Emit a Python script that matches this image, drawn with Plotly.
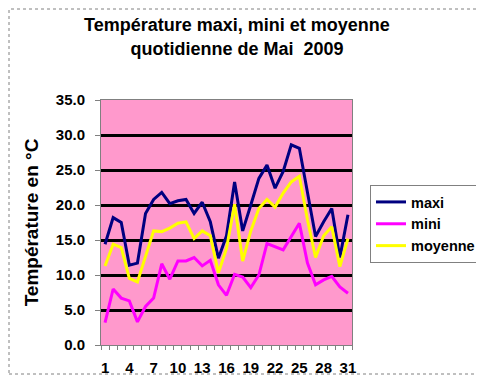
import plotly.graph_objects as go

days = list(range(1, 32))
maxi = [14.4, 18.2, 17.5, 11.4, 11.7, 18.8, 20.8, 21.8, 20.2, 20.6, 20.8, 18.8, 20.4, 17.6, 12.4, 15.6,
        23.3, 16.3, 20.0, 23.8, 25.7, 22.4, 24.8, 28.6, 28.1, 21.9, 15.5, 17.6, 19.5, 12.5, 18.6]
mini = [3.2, 8.0, 6.7, 6.3, 3.3, 5.5, 6.7, 11.6, 9.4, 12.0, 12.0, 12.5, 11.3, 12.1, 8.6, 7.1,
        10.1, 9.7, 8.2, 10.0, 14.5, 14.0, 13.6, 15.5, 17.4, 11.7, 8.6, 9.3, 9.8, 8.3, 7.4]
moyenne = [11.3, 14.4, 13.9, 9.5, 9.0, 12.6, 16.3, 16.2, 16.7, 17.4, 17.6, 15.2, 16.3, 15.6, 10.3, 13.8,
           20.1, 12.0, 16.3, 19.5, 20.8, 19.7, 21.7, 23.3, 24.1, 17.9, 12.5, 15.6, 16.9, 11.2, 15.2]
x_labels = [1, 4, 7, 10, 13, 16, 19, 22, 25, 28, 31]
y_ticks = [0, 5, 10, 15, 20, 25, 30, 35]

FONT = "Liberation Sans, Arial, sans-serif"

fig = go.Figure()
fig.add_trace(go.Scatter(x=days, y=maxi, name="maxi", mode="lines",
                         line=dict(color="#000080", width=3)))
fig.add_trace(go.Scatter(x=days, y=mini, name="mini", mode="lines",
                         line=dict(color="#FF00FF", width=3)))
fig.add_trace(go.Scatter(x=days, y=moyenne, name="moyenne", mode="lines",
                         line=dict(color="#FFFF00", width=3)))

# page body has an 8px margin, so the figure is drawn 8px smaller
W, H = 476, 367
L, R, T, B = 93, 132, 92, 30
pw, ph = W - L - R, H - T - B

fig.update_layout(
    width=W, height=H,
    margin=dict(l=L, r=R, t=T, b=B, autoexpand=False),
    paper_bgcolor="white",
    plot_bgcolor="#FF99CC",
    font=dict(family=FONT, size=15, color="black", weight="bold"),
    title=dict(text="Température maxi, mini et moyenne<br>quotidienne de Mai  2009",
               x=0.481, xanchor="center", y=0.936, yanchor="top",
               font=dict(family=FONT, size=18, color="black", weight="bold")),
    showlegend=True,
    legend=dict(x=(362 - L) / pw, xanchor="left", y=(H - B - 177) / ph, yanchor="top",
                bgcolor="white", bordercolor="#808080", borderwidth=1,
                font=dict(family=FONT, size=14.5, color="black", weight="bold")),
    xaxis=dict(range=[0.5, 31.5], tickvals=x_labels, ticktext=[str(v) for v in x_labels],
               ticks="", showgrid=False, zeroline=False, ticklabelstandoff=9,
               showline=True, linecolor="#808080", linewidth=1, mirror=True,
               tickfont=dict(family=FONT, size=15, color="black", weight="bold"),
               minor=dict(ticks="outside", tick0=0.5, dtick=1, ticklen=4,
                          tickcolor="#808080", showgrid=False)),
    yaxis=dict(range=[0, 35], tickvals=y_ticks, ticktext=[f"{v:.1f}" for v in y_ticks],
               ticks="outside", ticklen=5, tickcolor="#808080", ticklabelstandoff=7,
               showgrid=True, gridcolor="black", gridwidth=3, zeroline=False,
               showline=True, linecolor="#808080", linewidth=1, mirror=True,
               tickfont=dict(family=FONT, size=15, color="black", weight="bold"),
               title=dict(text="Température en °C", standoff=12,
                          font=dict(family=FONT, size=19, color="black", weight="bold"))),
)

# dotted outer border of the chart
fig.add_shape(type="rect", xref="paper", yref="paper",
              x0=-(L - 1) / pw, x1=(W - L - 1) / pw, y0=-(B - 1) / ph, y1=(H - B - 1) / ph,
              line=dict(color="#808080", width=1, dash="dot"), layer="below")

fig.write_html("out.html")
